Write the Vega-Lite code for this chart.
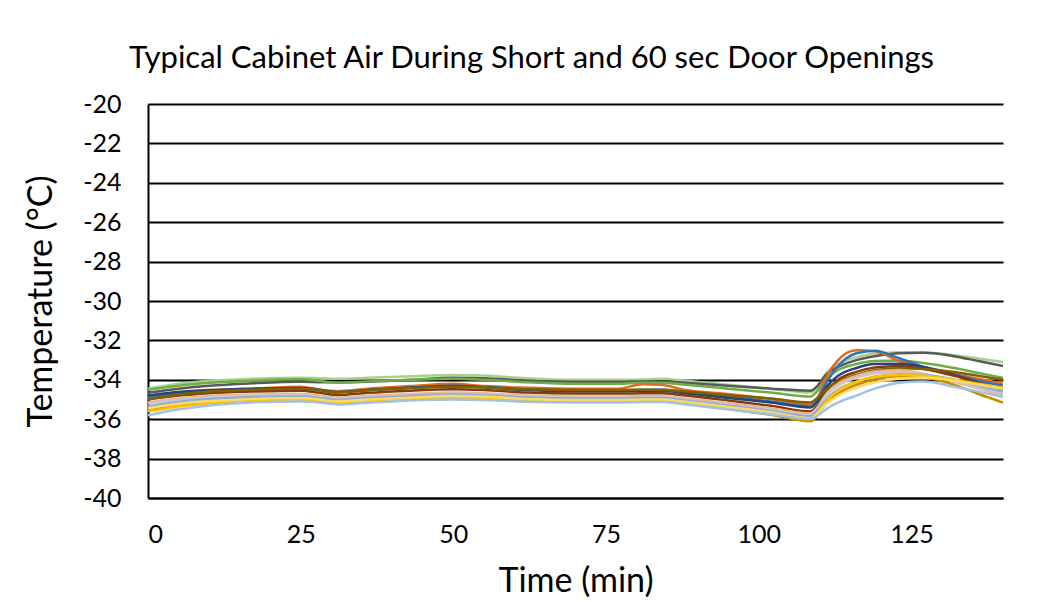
{
  "$schema": "https://vega.github.io/schema/vega-lite/v6.json",
  "width": 855,
  "height": 394,
  "autosize": {"type": "none"},
  "padding": {"left": 148, "top": 104, "right": 43, "bottom": 104},
  "background": "white",
  "title": {"text": "Typical Cabinet Air During Short and 60 sec Door Openings", "fontSize": 31, "fontWeight": "normal", "color": "black", "font": "Lato", "anchor": "middle", "dx": -44, "offset": 17},
  "config": {
    "font": "Lato",
    "view": {"stroke": null},
    "axis": {"labelColor": "black", "titleColor": "black", "titleFontWeight": "normal", "labelFont": "Lato", "titleFont": "Lato"}
  },
  "data": {"values": [
{"s":"LG","t":0,"v":-34.45},{"s":"LG","t":5,"v":-34.2},{"s":"LG","t":10,"v":-34.05},{"s":"LG","t":17,"v":-33.95},{"s":"LG","t":25,"v":-33.9},{"s":"LG","t":28,"v":-33.92},{"s":"LG","t":31,"v":-33.95},{"s":"LG","t":36,"v":-33.9},{"s":"LG","t":43,"v":-33.82},{"s":"LG","t":50,"v":-33.75},{"s":"LG","t":55,"v":-33.78},{"s":"LG","t":62,"v":-33.92},{"s":"LG","t":70,"v":-34.0},{"s":"LG","t":77,"v":-34.0},{"s":"LG","t":81,"v":-33.98},{"s":"LG","t":84,"v":-33.95},{"s":"LG","t":88,"v":-34.05},{"s":"LG","t":95,"v":-34.25},{"s":"LG","t":102,"v":-34.45},{"s":"LG","t":108.5,"v":-34.65},{"s":"LG","t":109.5,"v":-34.4},{"s":"LG","t":111,"v":-33.7},{"s":"LG","t":113,"v":-33.2},{"s":"LG","t":116,"v":-32.85},{"s":"LG","t":119,"v":-32.68},{"s":"LG","t":123,"v":-32.6},{"s":"LG","t":127,"v":-32.62},{"s":"LG","t":132,"v":-32.75},{"s":"LG","t":136,"v":-32.92},{"s":"LG","t":140,"v":-33.1},
{"s":"DG","t":0,"v":-34.65},{"s":"DG","t":5,"v":-34.45},{"s":"DG","t":10,"v":-34.3},{"s":"DG","t":17,"v":-34.18},{"s":"DG","t":25,"v":-34.1},{"s":"DG","t":28,"v":-34.12},{"s":"DG","t":31,"v":-34.13},{"s":"DG","t":36,"v":-34.1},{"s":"DG","t":43,"v":-34.0},{"s":"DG","t":50,"v":-33.9},{"s":"DG","t":55,"v":-33.92},{"s":"DG","t":62,"v":-34.05},{"s":"DG","t":70,"v":-34.1},{"s":"DG","t":77,"v":-34.1},{"s":"DG","t":81,"v":-34.08},{"s":"DG","t":84,"v":-34.08},{"s":"DG","t":88,"v":-34.15},{"s":"DG","t":95,"v":-34.3},{"s":"DG","t":102,"v":-34.45},{"s":"DG","t":108.5,"v":-34.55},{"s":"DG","t":109.5,"v":-34.35},{"s":"DG","t":111,"v":-33.75},{"s":"DG","t":113,"v":-33.35},{"s":"DG","t":116,"v":-33.0},{"s":"DG","t":119,"v":-32.8},{"s":"DG","t":123,"v":-32.65},{"s":"DG","t":127,"v":-32.63},{"s":"DG","t":132,"v":-32.8},{"s":"DG","t":136,"v":-33.05},{"s":"DG","t":140,"v":-33.3},
{"s":"G","t":0,"v":-34.5},{"s":"G","t":5,"v":-34.3},{"s":"G","t":10,"v":-34.15},{"s":"G","t":17,"v":-34.05},{"s":"G","t":25,"v":-33.97},{"s":"G","t":28,"v":-34.05},{"s":"G","t":31,"v":-34.15},{"s":"G","t":36,"v":-34.08},{"s":"G","t":43,"v":-34.0},{"s":"G","t":50,"v":-33.95},{"s":"G","t":55,"v":-34.0},{"s":"G","t":62,"v":-34.12},{"s":"G","t":70,"v":-34.2},{"s":"G","t":77,"v":-34.2},{"s":"G","t":81,"v":-34.15},{"s":"G","t":84,"v":-34.15},{"s":"G","t":88,"v":-34.25},{"s":"G","t":95,"v":-34.45},{"s":"G","t":102,"v":-34.65},{"s":"G","t":108.5,"v":-34.85},{"s":"G","t":109.5,"v":-34.6},{"s":"G","t":111,"v":-33.95},{"s":"G","t":113,"v":-33.5},{"s":"G","t":116,"v":-33.2},{"s":"G","t":119,"v":-33.05},{"s":"G","t":123,"v":-33.02},{"s":"G","t":127,"v":-33.15},{"s":"G","t":132,"v":-33.4},{"s":"G","t":136,"v":-33.65},{"s":"G","t":140,"v":-33.9},
{"s":"O","t":0,"v":-34.85},{"s":"O","t":5,"v":-34.65},{"s":"O","t":10,"v":-34.55},{"s":"O","t":17,"v":-34.45},{"s":"O","t":25,"v":-34.35},{"s":"O","t":28,"v":-34.5},{"s":"O","t":31,"v":-34.58},{"s":"O","t":36,"v":-34.45},{"s":"O","t":43,"v":-34.32},{"s":"O","t":50,"v":-34.2},{"s":"O","t":55,"v":-34.32},{"s":"O","t":62,"v":-34.4},{"s":"O","t":70,"v":-34.45},{"s":"O","t":77,"v":-34.45},{"s":"O","t":81,"v":-34.22},{"s":"O","t":84,"v":-34.25},{"s":"O","t":88,"v":-34.52},{"s":"O","t":95,"v":-34.72},{"s":"O","t":102,"v":-34.97},{"s":"O","t":108.5,"v":-35.25},{"s":"O","t":109.5,"v":-35.0},{"s":"O","t":111,"v":-33.9},{"s":"O","t":113,"v":-33.0},{"s":"O","t":116,"v":-32.5},{"s":"O","t":119,"v":-32.55},{"s":"O","t":123,"v":-33.05},{"s":"O","t":127,"v":-33.35},{"s":"O","t":132,"v":-33.7},{"s":"O","t":136,"v":-33.95},{"s":"O","t":140,"v":-34.2},
{"s":"B","t":0,"v":-34.9},{"s":"B","t":5,"v":-34.7},{"s":"B","t":10,"v":-34.58},{"s":"B","t":17,"v":-34.5},{"s":"B","t":25,"v":-34.45},{"s":"B","t":28,"v":-34.52},{"s":"B","t":31,"v":-34.62},{"s":"B","t":36,"v":-34.52},{"s":"B","t":43,"v":-34.4},{"s":"B","t":50,"v":-34.3},{"s":"B","t":55,"v":-34.35},{"s":"B","t":62,"v":-34.48},{"s":"B","t":70,"v":-34.55},{"s":"B","t":77,"v":-34.55},{"s":"B","t":81,"v":-34.5},{"s":"B","t":84,"v":-34.5},{"s":"B","t":88,"v":-34.62},{"s":"B","t":95,"v":-34.85},{"s":"B","t":102,"v":-35.1},{"s":"B","t":108.5,"v":-35.35},{"s":"B","t":109.5,"v":-35.1},{"s":"B","t":111,"v":-34.2},{"s":"B","t":113,"v":-33.3},{"s":"B","t":116,"v":-32.65},{"s":"B","t":119,"v":-32.52},{"s":"B","t":123,"v":-32.9},{"s":"B","t":127,"v":-33.35},{"s":"B","t":132,"v":-33.75},{"s":"B","t":136,"v":-34.05},{"s":"B","t":140,"v":-34.3},
{"s":"DB","t":0,"v":-34.8},{"s":"DB","t":5,"v":-34.62},{"s":"DB","t":10,"v":-34.52},{"s":"DB","t":17,"v":-34.45},{"s":"DB","t":25,"v":-34.42},{"s":"DB","t":28,"v":-34.5},{"s":"DB","t":31,"v":-34.64},{"s":"DB","t":36,"v":-34.52},{"s":"DB","t":43,"v":-34.4},{"s":"DB","t":50,"v":-34.32},{"s":"DB","t":55,"v":-34.38},{"s":"DB","t":62,"v":-34.52},{"s":"DB","t":70,"v":-34.58},{"s":"DB","t":77,"v":-34.58},{"s":"DB","t":81,"v":-34.55},{"s":"DB","t":84,"v":-34.55},{"s":"DB","t":88,"v":-34.68},{"s":"DB","t":95,"v":-34.92},{"s":"DB","t":102,"v":-35.15},{"s":"DB","t":108.5,"v":-35.4},{"s":"DB","t":109.5,"v":-35.15},{"s":"DB","t":111,"v":-34.4},{"s":"DB","t":113,"v":-33.8},{"s":"DB","t":116,"v":-33.4},{"s":"DB","t":119,"v":-33.2},{"s":"DB","t":123,"v":-33.18},{"s":"DB","t":127,"v":-33.35},{"s":"DB","t":132,"v":-33.75},{"s":"DB","t":136,"v":-34.15},{"s":"DB","t":140,"v":-34.5},
{"s":"BR","t":0,"v":-35.0},{"s":"BR","t":5,"v":-34.8},{"s":"BR","t":10,"v":-34.68},{"s":"BR","t":17,"v":-34.6},{"s":"BR","t":25,"v":-34.55},{"s":"BR","t":28,"v":-34.65},{"s":"BR","t":31,"v":-34.78},{"s":"BR","t":36,"v":-34.66},{"s":"BR","t":43,"v":-34.55},{"s":"BR","t":50,"v":-34.48},{"s":"BR","t":55,"v":-34.52},{"s":"BR","t":62,"v":-34.65},{"s":"BR","t":70,"v":-34.7},{"s":"BR","t":77,"v":-34.7},{"s":"BR","t":81,"v":-34.68},{"s":"BR","t":84,"v":-34.68},{"s":"BR","t":88,"v":-34.8},{"s":"BR","t":95,"v":-35.05},{"s":"BR","t":102,"v":-35.32},{"s":"BR","t":108.5,"v":-35.6},{"s":"BR","t":109.5,"v":-35.35},{"s":"BR","t":111,"v":-34.6},{"s":"BR","t":113,"v":-34.0},{"s":"BR","t":116,"v":-33.6},{"s":"BR","t":119,"v":-33.38},{"s":"BR","t":123,"v":-33.3},{"s":"BR","t":127,"v":-33.45},{"s":"BR","t":132,"v":-33.8},{"s":"BR","t":136,"v":-34.15},{"s":"BR","t":140,"v":-34.5},
{"s":"DGo","t":0,"v":-35.0},{"s":"DGo","t":5,"v":-34.75},{"s":"DGo","t":10,"v":-34.6},{"s":"DGo","t":17,"v":-34.5},{"s":"DGo","t":25,"v":-34.45},{"s":"DGo","t":28,"v":-34.52},{"s":"DGo","t":31,"v":-34.62},{"s":"DGo","t":36,"v":-34.52},{"s":"DGo","t":43,"v":-34.42},{"s":"DGo","t":50,"v":-34.35},{"s":"DGo","t":55,"v":-34.38},{"s":"DGo","t":62,"v":-34.48},{"s":"DGo","t":70,"v":-34.52},{"s":"DGo","t":77,"v":-34.52},{"s":"DGo","t":81,"v":-34.5},{"s":"DGo","t":84,"v":-34.5},{"s":"DGo","t":88,"v":-34.6},{"s":"DGo","t":95,"v":-34.78},{"s":"DGo","t":102,"v":-34.95},{"s":"DGo","t":108.5,"v":-35.15},{"s":"DGo","t":109.5,"v":-34.95},{"s":"DGo","t":111,"v":-34.5},{"s":"DGo","t":113,"v":-34.1},{"s":"DGo","t":116,"v":-33.75},{"s":"DGo","t":119,"v":-33.52},{"s":"DGo","t":123,"v":-33.42},{"s":"DGo","t":127,"v":-33.45},{"s":"DGo","t":132,"v":-33.6},{"s":"DGo","t":136,"v":-33.8},{"s":"DGo","t":140,"v":-34.0},
{"s":"SA","t":0,"v":-35.15},{"s":"SA","t":5,"v":-34.95},{"s":"SA","t":10,"v":-34.82},{"s":"SA","t":17,"v":-34.75},{"s":"SA","t":25,"v":-34.72},{"s":"SA","t":28,"v":-34.8},{"s":"SA","t":31,"v":-34.9},{"s":"SA","t":36,"v":-34.82},{"s":"SA","t":43,"v":-34.72},{"s":"SA","t":50,"v":-34.65},{"s":"SA","t":55,"v":-34.68},{"s":"SA","t":62,"v":-34.8},{"s":"SA","t":70,"v":-34.85},{"s":"SA","t":77,"v":-34.85},{"s":"SA","t":81,"v":-34.83},{"s":"SA","t":84,"v":-34.83},{"s":"SA","t":88,"v":-34.95},{"s":"SA","t":95,"v":-35.18},{"s":"SA","t":102,"v":-35.45},{"s":"SA","t":108.5,"v":-35.7},{"s":"SA","t":109.5,"v":-35.45},{"s":"SA","t":111,"v":-34.75},{"s":"SA","t":113,"v":-34.2},{"s":"SA","t":116,"v":-33.8},{"s":"SA","t":119,"v":-33.58},{"s":"SA","t":123,"v":-33.5},{"s":"SA","t":127,"v":-33.7},{"s":"SA","t":132,"v":-34.1},{"s":"SA","t":136,"v":-34.45},{"s":"SA","t":140,"v":-34.8},
{"s":"LGr","t":0,"v":-35.2},{"s":"LGr","t":5,"v":-35.0},{"s":"LGr","t":10,"v":-34.88},{"s":"LGr","t":17,"v":-34.8},{"s":"LGr","t":25,"v":-34.78},{"s":"LGr","t":28,"v":-34.85},{"s":"LGr","t":31,"v":-34.95},{"s":"LGr","t":36,"v":-34.87},{"s":"LGr","t":43,"v":-34.78},{"s":"LGr","t":50,"v":-34.7},{"s":"LGr","t":55,"v":-34.72},{"s":"LGr","t":62,"v":-34.85},{"s":"LGr","t":70,"v":-34.9},{"s":"LGr","t":77,"v":-34.9},{"s":"LGr","t":81,"v":-34.88},{"s":"LGr","t":84,"v":-34.88},{"s":"LGr","t":88,"v":-35.0},{"s":"LGr","t":95,"v":-35.25},{"s":"LGr","t":102,"v":-35.52},{"s":"LGr","t":108.5,"v":-35.8},{"s":"LGr","t":109.5,"v":-35.5},{"s":"LGr","t":111,"v":-34.8},{"s":"LGr","t":113,"v":-34.3},{"s":"LGr","t":116,"v":-33.9},{"s":"LGr","t":119,"v":-33.68},{"s":"LGr","t":123,"v":-33.6},{"s":"LGr","t":127,"v":-33.72},{"s":"LGr","t":132,"v":-34.05},{"s":"LGr","t":136,"v":-34.4},{"s":"LGr","t":140,"v":-34.7},
{"s":"PW","t":0,"v":-35.35},{"s":"PW","t":5,"v":-35.12},{"s":"PW","t":10,"v":-34.98},{"s":"PW","t":17,"v":-34.88},{"s":"PW","t":25,"v":-34.85},{"s":"PW","t":28,"v":-34.92},{"s":"PW","t":31,"v":-35.02},{"s":"PW","t":36,"v":-34.93},{"s":"PW","t":43,"v":-34.82},{"s":"PW","t":50,"v":-34.75},{"s":"PW","t":55,"v":-34.78},{"s":"PW","t":62,"v":-34.9},{"s":"PW","t":70,"v":-34.95},{"s":"PW","t":77,"v":-34.95},{"s":"PW","t":81,"v":-34.93},{"s":"PW","t":84,"v":-34.93},{"s":"PW","t":88,"v":-35.05},{"s":"PW","t":95,"v":-35.3},{"s":"PW","t":102,"v":-35.58},{"s":"PW","t":108.5,"v":-35.85},{"s":"PW","t":109.5,"v":-35.6},{"s":"PW","t":111,"v":-35.0},{"s":"PW","t":113,"v":-34.5},{"s":"PW","t":116,"v":-34.1},{"s":"PW","t":119,"v":-33.85},{"s":"PW","t":123,"v":-33.72},{"s":"PW","t":127,"v":-33.75},{"s":"PW","t":132,"v":-33.98},{"s":"PW","t":136,"v":-34.3},{"s":"PW","t":140,"v":-34.6},
{"s":"MU","t":0,"v":-35.55},{"s":"MU","t":5,"v":-35.3},{"s":"MU","t":10,"v":-35.15},{"s":"MU","t":17,"v":-35.05},{"s":"MU","t":25,"v":-35.0},{"s":"MU","t":28,"v":-35.08},{"s":"MU","t":31,"v":-35.18},{"s":"MU","t":36,"v":-35.08},{"s":"MU","t":43,"v":-34.95},{"s":"MU","t":50,"v":-34.88},{"s":"MU","t":55,"v":-34.9},{"s":"MU","t":62,"v":-35.02},{"s":"MU","t":70,"v":-35.08},{"s":"MU","t":77,"v":-35.08},{"s":"MU","t":81,"v":-35.05},{"s":"MU","t":84,"v":-35.05},{"s":"MU","t":88,"v":-35.2},{"s":"MU","t":95,"v":-35.48},{"s":"MU","t":102,"v":-35.78},{"s":"MU","t":108.5,"v":-36.1},{"s":"MU","t":109.5,"v":-35.85},{"s":"MU","t":111,"v":-35.2},{"s":"MU","t":113,"v":-34.7},{"s":"MU","t":116,"v":-34.25},{"s":"MU","t":119,"v":-33.98},{"s":"MU","t":123,"v":-33.82},{"s":"MU","t":127,"v":-33.88},{"s":"MU","t":132,"v":-34.25},{"s":"MU","t":136,"v":-34.72},{"s":"MU","t":140,"v":-35.15},
{"s":"Y","t":0,"v":-35.6},{"s":"Y","t":5,"v":-35.35},{"s":"Y","t":10,"v":-35.2},{"s":"Y","t":17,"v":-35.1},{"s":"Y","t":25,"v":-35.02},{"s":"Y","t":28,"v":-35.1},{"s":"Y","t":31,"v":-35.2},{"s":"Y","t":36,"v":-35.1},{"s":"Y","t":43,"v":-34.98},{"s":"Y","t":50,"v":-34.9},{"s":"Y","t":55,"v":-34.92},{"s":"Y","t":62,"v":-35.05},{"s":"Y","t":70,"v":-35.1},{"s":"Y","t":77,"v":-35.1},{"s":"Y","t":81,"v":-35.08},{"s":"Y","t":84,"v":-35.08},{"s":"Y","t":88,"v":-35.2},{"s":"Y","t":95,"v":-35.45},{"s":"Y","t":102,"v":-35.72},{"s":"Y","t":108.5,"v":-36.0},{"s":"Y","t":109.5,"v":-35.75},{"s":"Y","t":111,"v":-35.1},{"s":"Y","t":113,"v":-34.55},{"s":"Y","t":116,"v":-34.1},{"s":"Y","t":119,"v":-33.85},{"s":"Y","t":123,"v":-33.75},{"s":"Y","t":127,"v":-33.8},{"s":"Y","t":132,"v":-34.0},{"s":"Y","t":136,"v":-34.2},{"s":"Y","t":140,"v":-34.4},
{"s":"LY","t":0,"v":-35.45},{"s":"LY","t":5,"v":-35.22},{"s":"LY","t":10,"v":-35.08},{"s":"LY","t":17,"v":-34.98},{"s":"LY","t":25,"v":-34.93},{"s":"LY","t":28,"v":-35.0},{"s":"LY","t":31,"v":-35.1},{"s":"LY","t":36,"v":-35.0},{"s":"LY","t":43,"v":-34.9},{"s":"LY","t":50,"v":-34.82},{"s":"LY","t":55,"v":-34.85},{"s":"LY","t":62,"v":-34.97},{"s":"LY","t":70,"v":-35.02},{"s":"LY","t":77,"v":-35.02},{"s":"LY","t":81,"v":-35.0},{"s":"LY","t":84,"v":-35.0},{"s":"LY","t":88,"v":-35.12},{"s":"LY","t":95,"v":-35.38},{"s":"LY","t":102,"v":-35.65},{"s":"LY","t":108.5,"v":-35.95},{"s":"LY","t":109.5,"v":-35.75},{"s":"LY","t":111,"v":-35.25},{"s":"LY","t":113,"v":-34.8},{"s":"LY","t":116,"v":-34.4},{"s":"LY","t":119,"v":-34.12},{"s":"LY","t":123,"v":-33.95},{"s":"LY","t":127,"v":-33.9},{"s":"LY","t":132,"v":-34.05},{"s":"LY","t":136,"v":-34.25},{"s":"LY","t":140,"v":-34.45},
{"s":"LB","t":0,"v":-35.8},{"s":"LB","t":5,"v":-35.5},{"s":"LB","t":10,"v":-35.3},{"s":"LB","t":17,"v":-35.15},{"s":"LB","t":25,"v":-35.1},{"s":"LB","t":28,"v":-35.15},{"s":"LB","t":31,"v":-35.25},{"s":"LB","t":36,"v":-35.16},{"s":"LB","t":43,"v":-35.05},{"s":"LB","t":50,"v":-35.0},{"s":"LB","t":55,"v":-35.02},{"s":"LB","t":62,"v":-35.12},{"s":"LB","t":70,"v":-35.15},{"s":"LB","t":77,"v":-35.15},{"s":"LB","t":81,"v":-35.13},{"s":"LB","t":84,"v":-35.13},{"s":"LB","t":88,"v":-35.25},{"s":"LB","t":95,"v":-35.5},{"s":"LB","t":102,"v":-35.75},{"s":"LB","t":108.5,"v":-35.98},{"s":"LB","t":109.5,"v":-35.85},{"s":"LB","t":111,"v":-35.5},{"s":"LB","t":113,"v":-35.15},{"s":"LB","t":116,"v":-34.8},{"s":"LB","t":119,"v":-34.45},{"s":"LB","t":123,"v":-34.15},{"s":"LB","t":127,"v":-34.08},{"s":"LB","t":132,"v":-34.35},{"s":"LB","t":136,"v":-34.6},{"s":"LB","t":140,"v":-34.88}
  ]},
  "mark": {"type": "line", "strokeWidth": 2.5, "interpolate": "monotone", "clip": true},
  "encoding": {
    "x": {"field": "t", "type": "quantitative", "title": "Time (min)",
      "scale": {"domain": [0, 140], "nice": false, "zero": false},
      "axis": {"values": [0, 25, 50, 75, 100, 125], "grid": false, "ticks": false, "domain": true, "domainColor": "black", "domainWidth": 2, "labelFontSize": 25, "labelPadding": 24, "titleFontSize": 34, "titlePadding": 17}},
    "y": {"field": "v", "type": "quantitative", "title": "Temperature (°C)",
      "scale": {"domain": [-40, -20], "nice": false, "zero": false},
      "axis": {"values": [-40, -38, -36, -34, -32, -30, -28, -26, -24, -22, -20], "labelExpr": "'' + datum.value", "grid": true, "gridColor": "black", "gridWidth": 2, "gridOpacity": 1, "ticks": false, "domain": true, "domainColor": "black", "domainWidth": 2, "labelFontSize": 25, "labelPadding": 27, "titleFontSize": 34, "titlePadding": 24}},
    "color": {"field": "s", "type": "nominal", "legend": null,
      "scale": {"domain": ["LG","DG","G","O","B","DB","BR","DGo","SA","LGr","PW","MU","Y","LY","LB"],
                "range": ["#A9D18E","#595959","#70AD47","#E06A1F","#2E75B6","#264478","#843C0C","#806000","#F4B183","#C9C9C9","#8FAADC","#BF9000","#FFC000","#FFD966","#9DC3E6"]}},
    "order": {"field": "s"}
  }
}
